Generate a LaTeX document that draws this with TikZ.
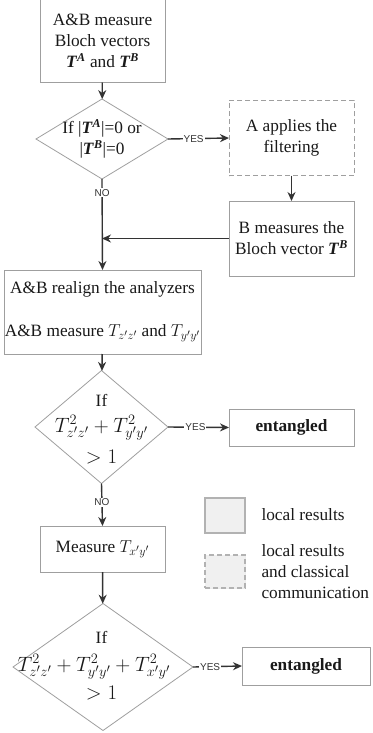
\documentclass[tikz,border=0pt]{standalone}
\usepackage{fontspec}
\setmainfont{Liberation Serif}
\setsansfont{Liberation Sans}
\usetikzlibrary{shapes.geometric,arrows.meta,shadows}

\newcommand{\bT}[1]{\textbf{\textit{T}}\textsuperscript{\textbf{\textit{#1}}}}

\begin{document}
\begin{tikzpicture}[x=1pt,y=1pt,
    every node/.style={font=\fontsize{17.28}{21}\selectfont, text=black!90},
    box/.style={draw=gray!75, line width=0.8pt, fill=white, align=center,
        inner sep=0pt, outer sep=0pt},
    dbox/.style={box, dashed, dash pattern=on 5pt off 3pt},
    decision/.style={diamond, draw=gray!75, line width=0.8pt, fill=white,
        inner sep=0pt, outer sep=0pt},
    formula/.style={font=\fontsize{20.74}{24}\selectfont, align=center},
    legbox/.style={box, fill=gray!12, draw=gray!60, line width=1.2pt,
        drop shadow={opacity=0.15, shadow xshift=1pt, shadow yshift=-1pt}},
    arr/.style={-{Stealth[length=9pt,width=8pt]}, line width=1.4pt, draw=black!80},
    lbl/.style={font=\sffamily\fontsize{10}{11}\selectfont, fill=white,
        inner sep=1pt, text=black!80}]
    \useasboundingbox (0,0) rectangle (372,-733);

    % first round: Bloch vectors
    \node[box, minimum width=125pt, minimum height=83pt] (meas) at (102.5,-41)
        {A\&B measure\\Bloch vectors\\\bT{A} and \bT{B}};
    \node[decision, minimum width=132pt, minimum height=80pt] (zero) at (102,-139) {};
    \node[align=center] (zerot) at (zero) {If |\bT{A}|=0 or\\|\bT{B}|=0};
    \node[dbox, minimum width=125pt, minimum height=75pt] (filt) at (291.5,-138)
        {A applies the\\filtering};
    \node[box, minimum width=125pt, minimum height=75pt] (bmeas) at (291.5,-238.5)
        {B measures the\\Bloch vector \bT{B}};

    % realign and second round
    \node[box, minimum width=197pt, minimum height=84pt] (realign) at (102.5,-312)
        {A\&B realign the analyzers\\[22pt]A\&B measure $T_{z'z'}$ and $T_{y'y'}$};
    \node[decision, minimum width=133pt, minimum height=113pt] (two) at (101.5,-427) {};
    \node (twoif) at (101.5,-400) {If};
    \node[formula] (twot) at (101.5,-428) {$T^2_{z'z'}+T^2_{y'y'}$};
    \node[formula] (twogt) at (101.5,-457) {$>1$};
    \node[box, minimum width=125pt, minimum height=37pt] (ent) at (291.5,-427.5)
        {\textbf{entangled}};

    % third measurement
    \node[box, minimum width=125pt, minimum height=46pt] (mxy) at (102.5,-549)
        {Measure $T_{x'y'}$};
    \node[decision, minimum width=180pt, minimum height=127pt] (three) at (103,-667) {};
    \node (threeif) at (101.5,-637) {If};
    \node[formula] (threet) at (94,-667) {$T^2_{z'z'}+T^2_{y'y'}+T^2_{x'y'}$};
    \node[formula] (threegt) at (101.5,-693) {$>1$};
    \node[box, minimum width=128pt, minimum height=38pt] (ent2) at (306,-666)
        {\textbf{entangled}};

    % legend
    \node[legbox, minimum width=40pt, minimum height=35pt] (legloc) at (225,-515.5) {};
    \node[anchor=west] (legloct) at (258,-515) {local results};
    \node[legbox, dashed, dash pattern=on 5pt off 3pt,
        minimum width=40pt, minimum height=33pt] (legcom) at (225,-571.5) {};
    \node[anchor=west, align=left] (legcomt) at (258,-572)
        {local results\\and classical\\communication};

    % connectors
    \draw[arr] (meas) -- (zero);
    \draw[arr] (zero.east) -- node[lbl, pos=0.42] {YES} (filt.west);
    \draw[arr] (filt) -- (bmeas);
    \draw[arr] (zero.south) -- node[lbl, pos=0.15] {NO} (realign.north);
    \draw[arr] (bmeas.west) -- (zero.south |- bmeas.west);
    \draw[arr] (realign) -- (two);
    \draw[arr] (two.east) -- node[lbl, pos=0.45] {YES} (ent.west);
    \draw[arr] (two.south) -- node[lbl, pos=0.44] {NO} (mxy.north);
    \draw[arr] (mxy) -- (three);
    \draw[arr] (three.east) -- node[lbl, pos=0.35] {YES} (ent2.west);
\end{tikzpicture}
\end{document}
